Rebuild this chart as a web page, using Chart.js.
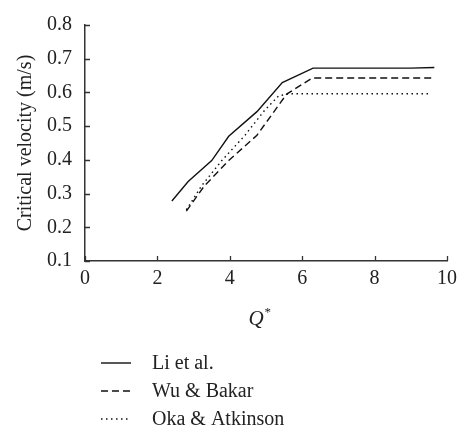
<!DOCTYPE html>
<html>
<head>
<meta charset="utf-8">
<script src="https://cdn.jsdelivr.net/npm/chart.js@4.4.1/dist/chart.umd.min.js"></script>
<style>
  html, body { margin: 0; padding: 0; background: #fff; }
  #wrap { width: 465px; height: 434px; position: relative; }
</style>
</head>
<body>
<div id="wrap"><canvas id="chart"></canvas></div>
<script>
// values (x = Q*, y = critical velocity m/s)
const liX = [2.4, 2.85, 3.5, 3.97, 4.75, 5.45, 6.3, 9.0, 9.65];
const liY = [0.278, 0.336, 0.398, 0.47, 0.543, 0.629, 0.672, 0.672, 0.674];

const wuX = [2.8, 3.3, 3.97, 4.75, 5.57, 6.28, 9.65];
const wuY = [0.248, 0.323, 0.398, 0.473, 0.595, 0.643, 0.643];

const okaX = [2.8, 3.22, 3.78, 4.42, 4.97, 5.35, 5.65, 9.55];
const okaY = [0.252, 0.323, 0.398, 0.473, 0.548, 0.59, 0.596, 0.596];

const seriesNames = ["Li et al.", "Wu & Bakar", "Oka & Atkinson"];
const xTicks = [0, 2, 4, 6, 8, 10];
const yTicks = [0.1, 0.2, 0.3, 0.4, 0.5, 0.6, 0.7, 0.8];

const FONT = "'Liberation Serif', 'DejaVu Serif', serif";
const AXIS = "#333";

function pts(xs, ys) {
  return xs.map((x, i) => ({ x: x, y: ys[i] }));
}

// inward ticks, Q* title and the stacked legend
const extras = {
  id: "extras",
  afterDraw(chart) {
    const ctx = chart.ctx;
    const xs = chart.scales.x;
    const ys = chart.scales.y;
    const area = chart.chartArea;
    ctx.save();
    ctx.strokeStyle = AXIS;
    ctx.lineWidth = 1.3;
    ctx.beginPath();
    yTicks.forEach(v => {
      const py = Math.round(ys.getPixelForValue(v)) + 0.5;
      ctx.moveTo(area.left, py);
      ctx.lineTo(area.left + 5, py);
    });
    xTicks.forEach(v => {
      const px = Math.round(xs.getPixelForValue(v)) + 0.5;
      ctx.moveTo(px, area.bottom);
      ctx.lineTo(px, area.bottom - 5);
    });
    ctx.stroke();

    // x title: italic Q with superscript *
    const cx = (area.left + area.right) / 2 - 8;
    ctx.fillStyle = "#222";
    ctx.textBaseline = "alphabetic";
    ctx.textAlign = "left";
    ctx.font = "italic 21px " + FONT;
    const qw = ctx.measureText("Q").width;
    ctx.fillText("Q", cx - qw / 2 - 2, 325);
    ctx.font = "13px " + FONT;
    ctx.fillText("*", cx + qw / 2 - 1, 316);

    // legend
    ctx.font = "20px " + FONT;
    ctx.textBaseline = "middle";
    chart.data.datasets.forEach((ds, i) => {
      const y = 363 + i * 28;
      ctx.strokeStyle = ds.borderColor;
      ctx.lineWidth = ds.borderWidth;
      ctx.setLineDash(ds.borderDash || []);
      ctx.beginPath();
      ctx.moveTo(101, y);
      ctx.lineTo(131, y);
      ctx.stroke();
      ctx.setLineDash([]);
      ctx.fillStyle = "#222";
      ctx.fillText(ds.label, 152, y + 1);
    });
    ctx.restore();
  }
};

new Chart(document.getElementById("chart"), {
  type: "line",
  data: {
    datasets: [
      {
        label: seriesNames[0],
        data: pts(liX, liY),
        borderColor: "#111",
        borderWidth: 1.4,
        pointRadius: 0,
        tension: 0
      },
      {
        label: seriesNames[1],
        data: pts(wuX, wuY),
        borderColor: "#111",
        borderWidth: 1.4,
        borderDash: [7, 4],
        pointRadius: 0,
        tension: 0
      },
      {
        label: seriesNames[2],
        data: pts(okaX, okaY),
        borderColor: "#111",
        borderWidth: 1.4,
        borderDash: [1.5, 3.5],
        pointRadius: 0,
        tension: 0
      }
    ]
  },
  options: {
    responsive: true,
    maintainAspectRatio: false,
    animation: false,
    layout: { padding: { top: 12, right: 18, left: 14, bottom: 0 } },
    plugins: {
      legend: { display: false },
      tooltip: { enabled: false }
    },
    scales: {
      x: {
        type: "linear",
        min: 0,
        max: 10,
        afterBuildTicks: s => { s.ticks = xTicks.map(v => ({ value: v })); },
        afterFit: s => { s.height = 173; },
        grid: { display: false, drawTicks: false },
        border: { display: true, color: AXIS, width: 1.5 },
        ticks: {
          padding: 6,
          color: "#222",
          font: { family: FONT, size: 20 }
        }
      },
      y: {
        type: "linear",
        min: 0.1,
        max: 0.8,
        afterBuildTicks: s => { s.ticks = yTicks.map(v => ({ value: v })); },
        afterFit: s => { s.width = 71; },
        grid: { display: false, drawTicks: false },
        border: { display: true, color: AXIS, width: 1.5 },
        ticks: {
          padding: 13,
          color: "#222",
          font: { family: FONT, size: 20 },
          callback: v => v.toFixed(1)
        },
        title: {
          display: true,
          text: "Critical velocity (m/s)",
          color: "#222",
          padding: { top: 0, bottom: 4 },
          font: { family: FONT, size: 20 }
        }
      }
    }
  },
  plugins: [extras]
});
</script>
</body>
</html>
